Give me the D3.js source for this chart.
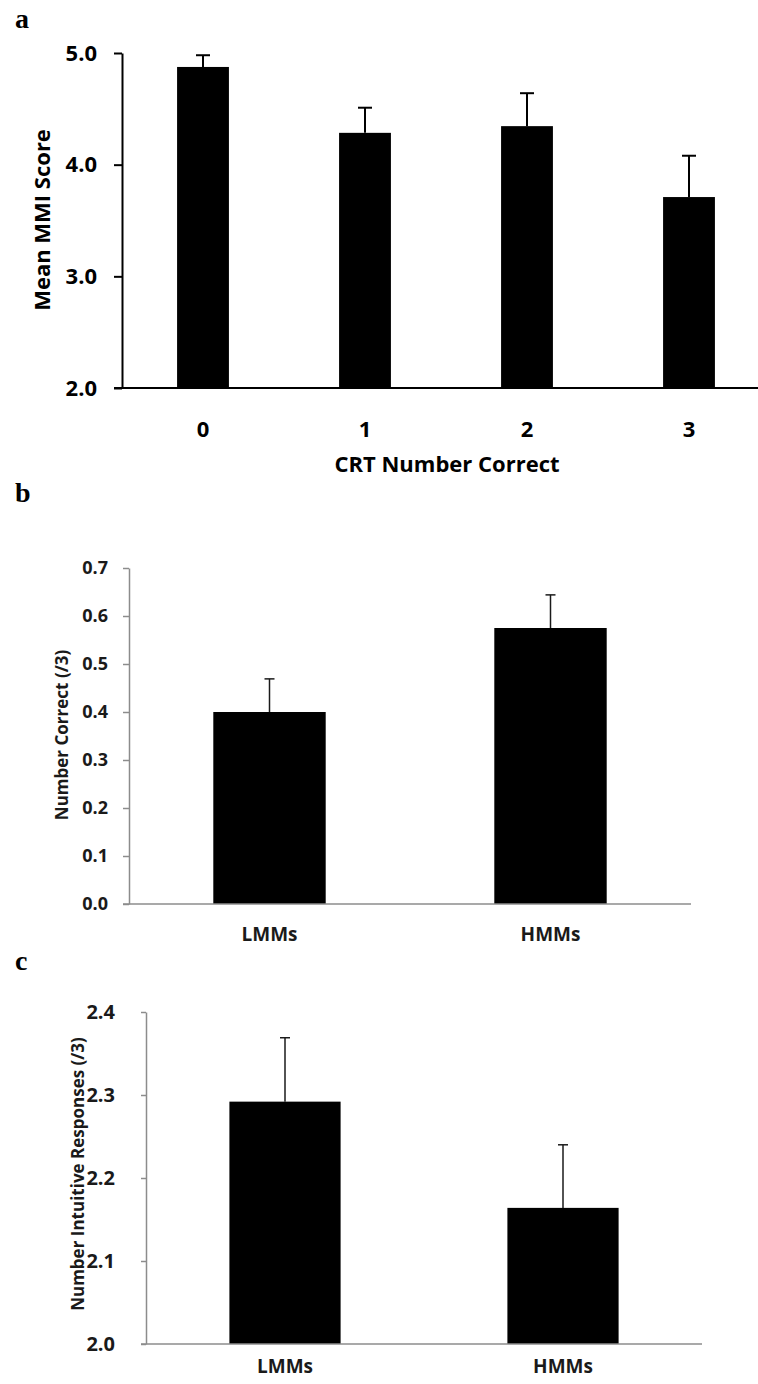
<!DOCTYPE html>
<html lang="en">
<head>
    <meta charset="UTF-8">
    <title>MMI and CRT bars</title>
    <script src="https://cdn.jsdelivr.net/npm/d3@7/dist/d3.min.js"></script>
    <style>
        * {
            margin: 0;
            padding: 0;
        }
        body {
            background: #fff;
        }
        text {
            font-family: 'Open Sans', 'DejaVu Sans', sans-serif;
            font-weight: bold;
        }
        .panel-letter {
            font-family: 'Liberation Serif', 'DejaVu Serif', serif;
        }
    </style>
</head>
<body>
</body>
<script>
    // panel a: mean MMI score by CRT number correct
    const crtCategories = ['0', '1', '2', '3']
    const mmiMeans = [4.875, 4.285, 4.345, 3.71]
    const mmiErrors = [0.105, 0.225, 0.295, 0.37]
    const mmiTicks = [2.0, 3.0, 4.0, 5.0]

    // panel b: CRT number correct by group
    const groups = ['LMMs', 'HMMs']
    const correctMeans = [0.40, 0.575]
    const correctErrors = [0.069, 0.069]
    const correctTicks = [0.0, 0.1, 0.2, 0.3, 0.4, 0.5, 0.6, 0.7]

    // panel c: intuitive responses by group
    const intuitiveMeans = [2.292, 2.164]
    const intuitiveErrors = [0.077, 0.076]
    const intuitiveTicks = [2.0, 2.1, 2.2, 2.3, 2.4]

    const width = 758
    const height = 1384

    const svg = d3.select('body')
        .append('svg')
        .attr('width', width)
        .attr('height', height)

    function drawPanel(p) {
        const g = svg.append('g')

        const xScale = d3.scaleBand()
            .domain(p.categories)
            .range([p.left, p.right])
            .paddingInner(p.padInner)
            .paddingOuter(p.padOuter)

        const yScale = d3.scaleLinear()
            .domain(p.yDomain)
            .range([p.bottom, p.top])

        // bars
        g.selectAll('.bar')
            .data(p.means)
            .enter()
            .append('rect')
            .attr('class', 'bar')
            .attr('x', (d, i) => xScale(p.categories[i]))
            .attr('y', d => yScale(d))
            .attr('width', xScale.bandwidth())
            .attr('height', d => p.bottom - yScale(d))
            .attr('fill', '#000')

        // error bars, upper half only
        const cx = i => xScale(p.categories[i]) + xScale.bandwidth() / 2
        g.selectAll('.err')
            .data(p.means)
            .enter()
            .append('line')
            .attr('x1', (d, i) => cx(i))
            .attr('x2', (d, i) => cx(i))
            .attr('y1', d => yScale(d))
            .attr('y2', (d, i) => yScale(d + p.errors[i]))
            .attr('stroke', p.errColor)
            .attr('stroke-width', p.errWidth)
        g.selectAll('.cap')
            .data(p.means)
            .enter()
            .append('line')
            .attr('x1', (d, i) => cx(i) - p.cap)
            .attr('x2', (d, i) => cx(i) + p.cap)
            .attr('y1', (d, i) => yScale(d + p.errors[i]))
            .attr('y2', (d, i) => yScale(d + p.errors[i]))
            .attr('stroke', p.errColor)
            .attr('stroke-width', p.errWidth)

        // y axis
        const yAxis = d3.axisLeft(yScale)
            .tickValues(p.ticks)
            .tickFormat(d3.format('.1f'))
            .tickSizeInner(p.tickSize)
            .tickSizeOuter(0)
            .tickPadding(p.tickPad)
        const yg = g.append('g')
            .attr('transform', 'translate(' + p.left + ',0)')
            .call(yAxis)
        yg.selectAll('path, line')
            .attr('stroke', p.axisColor)
            .attr('stroke-width', p.axisWidth)
        yg.selectAll('text')
            .attr('fill', p.textColor)
            .style('font-size', p.tickFont + 'px')

        // x axis: baseline runs from the tick end to the right edge
        g.append('line')
            .attr('x1', p.left - p.tickSize)
            .attr('x2', p.right)
            .attr('y1', p.bottom)
            .attr('y2', p.bottom)
            .attr('stroke', p.axisColor)
            .attr('stroke-width', p.axisWidth)

        const xAxis = d3.axisBottom(xScale)
            .tickSize(0)
            .tickPadding(p.xPad)
        const xg = g.append('g')
            .attr('transform', 'translate(0,' + p.bottom + ')')
            .call(xAxis)
        xg.select('.domain').remove()
        xg.selectAll('text')
            .attr('fill', p.textColor)
            .style('font-size', p.xFont + 'px')

        // y axis title
        g.append('text')
            .attr('transform', 'translate(' + p.yTitleX + ',' + p.yTitleY + ') rotate(-90)')
            .attr('text-anchor', 'middle')
            .attr('dy', '0.35em')
            .attr('fill', p.textColor)
            .style('font-size', p.yTitleFont + 'px')
            .text(p.yTitle)

        // panel letter
        g.append('text')
            .attr('class', 'panel-letter')
            .attr('x', 15)
            .attr('y', p.letterY)
            .attr('fill', '#000')
            .style('font-size', '28px')
            .text(p.letter)

        return g
    }

    const ga = drawPanel({
        letter: 'a', letterY: 28,
        categories: crtCategories, means: mmiMeans, errors: mmiErrors, ticks: mmiTicks,
        yDomain: [2, 5],
        left: 122, right: 770, top: 53, bottom: 388,
        padInner: 0.68, padOuter: 0.34,
        tickSize: 8, tickPad: 17, tickFont: 22, xPad: 33, xFont: 22,
        axisColor: '#000', axisWidth: 2, textColor: '#000',
        errColor: '#000', errWidth: 2, cap: 7,
        yTitle: 'Mean MMI Score', yTitleX: 42, yTitleY: 220, yTitleFont: 22
    })

    ga.append('text')
        .attr('x', 447)
        .attr('y', 472)
        .attr('text-anchor', 'middle')
        .attr('fill', '#000')
        .style('font-size', '22px')
        .text('CRT Number Correct')

    drawPanel({
        letter: 'b', letterY: 502,
        categories: groups, means: correctMeans, errors: correctErrors, ticks: correctTicks,
        yDomain: [0, 0.7],
        left: 129, right: 691, top: 568, bottom: 904,
        padInner: 0.6, padOuter: 0.3,
        tickSize: 6, tickPad: 15, tickFont: 18, xPad: 24, xFont: 19,
        axisColor: '#8c8c8c', axisWidth: 1.5, textColor: '#1a1a1a',
        errColor: '#1a1a1a', errWidth: 1.5, cap: 5,
        yTitle: 'Number Correct (/3)', yTitleX: 62, yTitleY: 735, yTitleFont: 17
    })

    drawPanel({
        letter: 'c', letterY: 970,
        categories: groups, means: intuitiveMeans, errors: intuitiveErrors, ticks: intuitiveTicks,
        yDomain: [2, 2.4],
        left: 146, right: 702, top: 1012, bottom: 1344,
        padInner: 0.6, padOuter: 0.3,
        tickSize: 5, tickPad: 26, tickFont: 20, xPad: 16, xFont: 19,
        axisColor: '#8c8c8c', axisWidth: 1.5, textColor: '#1a1a1a',
        errColor: '#1a1a1a', errWidth: 1.5, cap: 5,
        yTitle: 'Number Intuitive Responses (/3)', yTitleX: 78, yTitleY: 1174, yTitleFont: 17
    })
</script>
</html>
